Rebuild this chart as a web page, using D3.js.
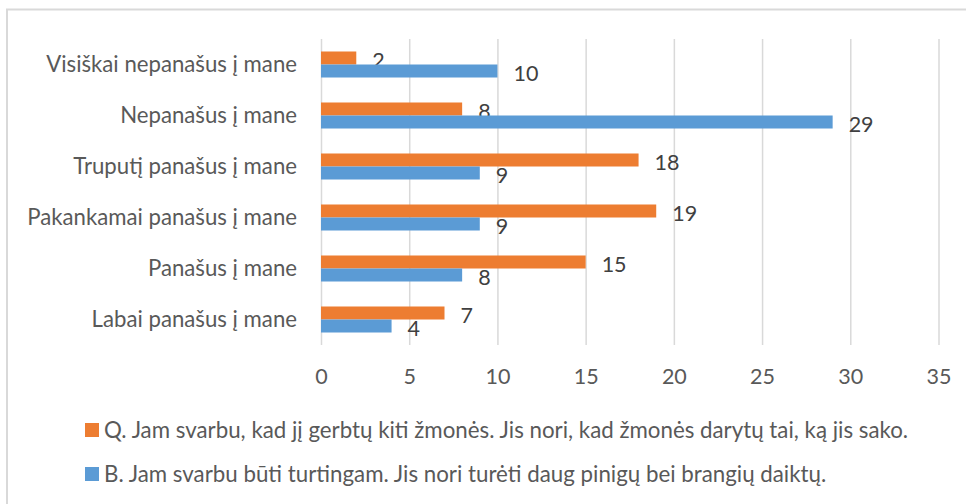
<!DOCTYPE html>
<html>
<head>
<meta charset="utf-8">
<script src="https://cdn.jsdelivr.net/npm/d3@7"></script>
<style>
  body { margin: 0; background: #fff; }
  svg { display: block; font-family: Lato, "Open Sans", sans-serif; }
</style>
</head>
<body>
<svg id="chart"></svg>
<script>
const categories = [
  "Visiškai nepanašus į mane",
  "Nepanašus į mane",
  "Truputį panašus į mane",
  "Pakankamai panašus į mane",
  "Panašus į mane",
  "Labai panašus į mane"
];
const seriesQ = [2, 8, 18, 19, 15, 7];
const seriesB = [10, 29, 9, 9, 8, 4];
const xTicks = [0, 5, 10, 15, 20, 25, 30, 35];
const legendLabels = [
  "Q. Jam svarbu, kad jį gerbtų kiti žmonės. Jis nori, kad žmonės darytų tai, ką jis sako.",
  "B. Jam svarbu būti turtingam. Jis nori turėti daug pinigų bei brangių daiktų."
];

const colors = { Q: "#ED7D31", B: "#5B9BD5" };
const width = 966, height = 504;
const plot = { left: 321, right: 938.5, top: 39, bottom: 345 };

const rows = categories.map((c, i) => ({ cat: c, Q: seriesQ[i], B: seriesB[i] }));

const svg = d3.select("#chart")
  .attr("width", width)
  .attr("height", height);

svg.append("rect")
  .attr("width", width).attr("height", height)
  .attr("fill", "#fff");

// chart frame
svg.append("rect")
  .attr("x", 7).attr("y", 9.5)
  .attr("width", 980).attr("height", 520)
  .attr("fill", "none")
  .attr("stroke", "#D9D9D9")
  .attr("stroke-width", 2);

const x = d3.scaleLinear()
  .domain([0, 35])
  .range([plot.left, plot.right]);

const y = d3.scaleBand()
  .domain(categories)
  .range([plot.top, plot.bottom])
  .paddingInner(0.49)
  .paddingOuter(0.245);

const sub = d3.scaleBand()
  .domain(["Q", "B"])
  .range([0, y.bandwidth()]);

// gridlines + tick labels
const xAxis = svg.append("g")
  .attr("transform", `translate(0,${plot.top})`)
  .call(d3.axisBottom(x).tickValues(xTicks).tickSize(plot.bottom - plot.top).tickPadding(24));
xAxis.select(".domain").remove();
xAxis.selectAll("line")
  .attr("stroke", "#D9D9D9")
  .attr("stroke-width", 1.5);
xAxis.selectAll("text")
  .attr("fill", "#595959")
  .attr("font-size", 21.5)
  .attr("font-family", "Lato, sans-serif");

// category labels
const yAxis = svg.append("g")
  .attr("transform", `translate(${plot.left},0)`)
  .call(d3.axisLeft(y).tickSize(0).tickPadding(24));
yAxis.select(".domain").remove();
yAxis.selectAll("text")
  .attr("fill", "#595959")
  .attr("font-size", 22.2)
  .attr("font-family", "Lato, sans-serif");

const groups = svg.selectAll(".grp")
  .data(rows)
  .enter().append("g")
  .attr("class", "grp")
  .attr("transform", d => `translate(0,${y(d.cat)})`);

const bars = groups.selectAll("g.bar")
  .data(d => ["Q", "B"].map(k => ({ key: k, value: d[k] })))
  .enter().append("g")
  .attr("class", "bar");

bars.append("rect")
  .attr("x", x(0))
  .attr("y", d => sub(d.key))
  .attr("width", d => x(d.value) - x(0))
  .attr("height", sub.bandwidth())
  .attr("fill", d => colors[d.key]);

bars.append("text")
  .attr("x", d => x(d.value) + 16)
  .attr("y", d => sub(d.key) + sub.bandwidth() / 2 + 2)
  .attr("dy", "0.35em")
  .attr("fill", "#404040")
  .attr("font-size", 21.5)
  .text(d => d.value);

// legend
const legend = svg.selectAll(".legend")
  .data(legendLabels)
  .enter().append("g")
  .attr("class", "legend")
  .attr("transform", (d, i) => `translate(85,${423 + i * 44})`);

legend.append("rect")
  .attr("width", 14).attr("height", 14)
  .attr("fill", (d, i) => i === 0 ? colors.Q : colors.B);

legend.append("text")
  .attr("x", 19)
  .attr("y", 7)
  .attr("dy", "0.35em")
  .attr("fill", "#595959")
  .attr("font-size", 22.3)
  .text(d => d);
</script>
</body>
</html>
